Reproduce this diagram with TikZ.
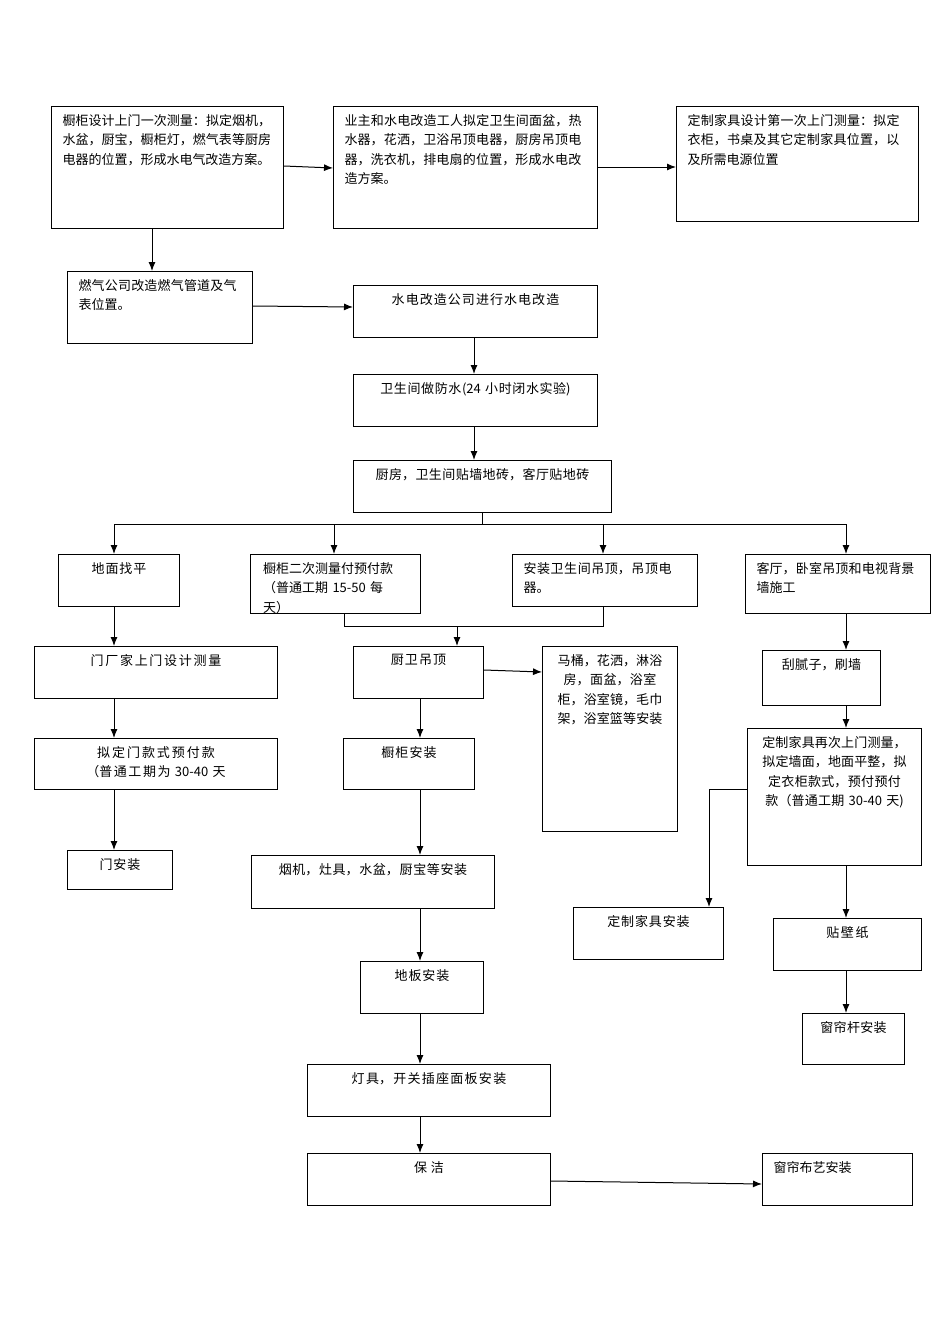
\documentclass[tikz,border=0pt]{standalone}
\usepackage{fontspec}
\setmainfont{Noto Sans CJK SC}
\XeTeXlinebreaklocale "zh"
\XeTeXlinebreakskip=0pt plus 1pt
\usetikzlibrary{arrows.meta}
\newcommand\bx[7]{%
 \node[draw,line width=1pt,anchor=north west,minimum width=#4pt,minimum height=#5pt,inner sep=0pt] (#1) at (#2,#3) {};
 \node[anchor=north,text width=#4pt-22pt,align=#6,inner sep=0pt,font=\fontsize{13}{19.5}\selectfont] at ([yshift=-8pt]#1.north) {#7};}
\tikzset{ar/.style={line width=1pt,-{Latex[length=9pt,width=7pt]}},ln/.style={line width=1pt}}
\begin{document}
\begin{tikzpicture}[x=1pt,y=-1pt]
\useasboundingbox (0,0) rectangle (950,1344);
\bx{A}{51}{106}{232}{122}{left}{橱柜设计上门一次测量：拟定烟机，水盆，厨宝，橱柜灯，燃气表等厨房电器的位置，形成水电气改造方案。}
\bx{B}{333}{106}{264}{122}{left}{业主和水电改造工人拟定卫生间面盆，热水器，花洒，卫浴吊顶电器，厨房吊顶电器，洗衣机，排电扇的位置，形成水电改造方案。}
\bx{C}{676}{106}{242}{115}{left}{定制家具设计第一次上门测量：拟定衣柜，书桌及其它定制家具位置，以及所需电源位置}
\bx{D}{67}{271}{185}{72}{left}{燃气公司改造燃气管道及气表位置。}
\bx{E}{353}{285}{244}{52}{center}{水电改造公司进行水电改造}
\bx{F}{353}{374}{244}{52}{center}{卫生间做防水(24 小时闭水实验)}
\bx{G}{353}{460}{258}{52}{center}{厨房，卫生间贴墙地砖，客厅贴地砖}
\bx{H}{58}{554}{121}{52}{center}{地面找平}
\node[draw,line width=1pt,anchor=north west,minimum width=170pt,minimum height=59pt,inner sep=0pt] (I) at (250,554) {};
\begin{scope}\clip (250,554) rectangle (420,613);
\node[anchor=north west,text width=150pt,align=left,inner sep=0pt,font=\fontsize{13}{19.5}\selectfont] at (263,562) {橱柜二次测量付预付款\\（普通工期 15-50 每\\天）};
\end{scope}
\bx{J}{512}{554}{185}{52}{left}{安装卫生间吊顶，吊顶电器。}
\bx{K}{745}{554}{185}{59}{left}{客厅，卧室吊顶和电视背景墙施工}
\bx{L}{34}{646}{243}{52}{center}{门厂家上门设计测量}
\bx{M}{353}{646}{130}{52}{center}{厨卫吊顶}
\bx{N}{542}{646}{135}{185}{center}{马桶，花洒，淋浴房，面盆，浴室柜，浴室镜，毛巾架，浴室篮等安装}
\bx{O}{762}{650}{118}{55}{center}{刮腻子，刷墙}
\bx{P}{34}{738}{243}{51}{center}{拟定门款式预付款（普通工期为 30-40 天}
\bx{Q}{343}{738}{131}{51}{center}{橱柜安装}
\bx{R}{747}{728}{174}{137}{center}{定制家具再次上门测量，拟定墙面，地面平整，拟定衣柜款式，预付预付款（普通工期 30-40 天)}
\bx{S}{67}{850}{105}{39}{center}{门安装}
\bx{T}{251}{855}{243}{53}{center}{烟机，灶具，水盆，厨宝等安装}
\bx{U}{573}{907}{150}{52}{center}{定制家具安装}
\bx{V}{773}{918}{148}{52}{center}{贴壁纸}
\bx{W}{360}{961}{123}{52}{center}{地板安装}
\bx{X}{802}{1013}{102}{51}{center}{窗帘杆安装}
\bx{Y}{307}{1064}{243}{52}{center}{灯具，开关插座面板安装}
\bx{Z}{307}{1153}{243}{52}{center}{保洁}
\bx{AA}{762}{1153}{150}{52}{left}{窗帘布艺安装}
\draw[ar] (A.east |- 0,166) -- (B.west |- 0,168);
\draw[ar] (B.east |- 0,167) -- (C.west |- 0,167);
\draw[ar] (A.south -| 152,0) -- (D.north -| 152,0);
\draw[ar] (D.east |- 0,306) -- (E.west |- 0,307);
\draw[ar] (E.south -| 474,0) -- (F.north -| 474,0);
\draw[ar] (F.south -| 474,0) -- (G.north -| 474,0);
\coordinate (g1) at (482,524);
\draw[ln] (G.south -| g1) -- (g1);
\draw[ln] (114,524) -- (846,524);
\draw[ar] (114,524) -- (H.north -| 114,0);
\draw[ar] (334,524) -- (I.north -| 334,0);
\draw[ar] (603,524) -- (J.north -| 603,0);
\draw[ar] (846,524) -- (K.north -| 846,0);
\draw[ar] (H.south -| 114,0) -- (L.north -| 114,0);
\draw[ar] (L.south -| 114,0) -- (P.north -| 114,0);
\draw[ar] (P.south -| 114,0) -- (S.north -| 114,0);
\draw[ln] (I.south -| 344,0) -- (344,626) -- (603,626) -- (J.south -| 603,0);
\draw[ar] (457,626) -- (M.north -| 457,0);
\draw[ar] (M.east |- 0,670) -- (N.west |- 0,672);
\draw[ar] (M.south -| 420,0) -- (Q.north -| 420,0);
\draw[ar] (Q.south -| 420,0) -- (T.north -| 420,0);
\draw[ar] (T.south -| 420,0) -- (W.north -| 420,0);
\draw[ar] (W.south -| 420,0) -- (Y.north -| 420,0);
\draw[ar] (Y.south -| 420,0) -- (Z.north -| 420,0);
\draw[ar] (Z.east |- 0,1181) -- (AA.west |- 0,1184);
\draw[ar] (K.south -| 846,0) -- (O.north -| 846,0);
\draw[ar] (O.south -| 846,0) -- (R.north -| 846,0);
\draw[ar] (R.south -| 846,0) -- (V.north -| 846,0);
\draw[ar] (V.south -| 846,0) -- (X.north -| 846,0);
\draw[ar] (R.west |- 0,789) -- (709,789) -- (U.north -| 709,0);
\end{tikzpicture}
\end{document}
